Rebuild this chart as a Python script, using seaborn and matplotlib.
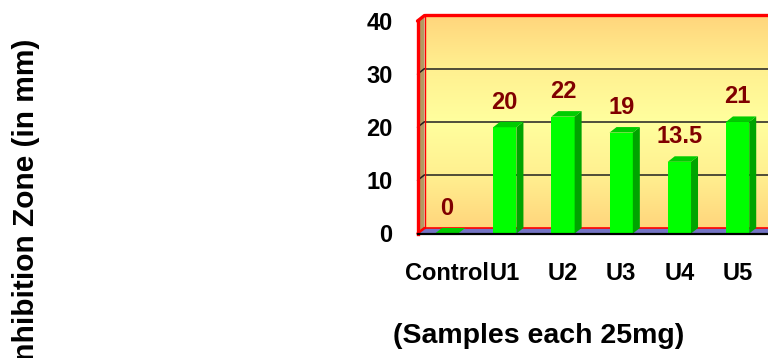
import numpy as np
import pandas as pd
import seaborn as sns
import matplotlib.pyplot as plt
from matplotlib.patches import Polygon
from matplotlib.colors import LinearSegmentedColormap

# Inhibition zone diameters for each sample (25 mg each)
categories = ["Control", "U1", "U2", "U3", "U4", "U5"]
zone_mm = [0, 20, 22, 19, 13.5, 21]
value_labels = ["0", "20", "22", "19", "13.5", "21"]
y_ticks = [0, 10, 20, 30, 40]

sns.set_theme(style="white")
plt.rcParams["font.family"] = ["Liberation Sans", "DejaVu Sans"]
plt.rcParams["font.weight"] = "bold"

W, H = 768, 358
fig = plt.figure(figsize=(W / 100, H / 100), dpi=100)

# plot-area geometry in pixels (front plane)
left_px, right_px = 417.5, 772.5
top_px, bottom_px = 21, 233.5
x_lo, x_hi = -0.5, 5.6
y_lo, y_hi = 0, 40
ax = fig.add_axes([left_px / W, 1 - bottom_px / H,
                   (right_px - left_px) / W, (bottom_px - top_px) / H])

# 3-D depth of the walls / columns, converted to data units
px_per_x = (right_px - left_px) / (x_hi - x_lo)
px_per_y = (bottom_px - top_px) / (y_hi - y_lo)
DX = 7.0 / px_per_x
DY = 5.5 / px_per_y

# back wall with a warm vertical gradient
wall_cmap = LinearSegmentedColormap.from_list(
    "wall", ["#FFD57C", "#FFF090", "#FFFF9E", "#FFF090", "#FFD57C"])
grad = np.linspace(0, 1, 256).reshape(-1, 1)
ax.imshow(grad, cmap=wall_cmap, aspect="auto", origin="upper",
          extent=[x_lo + DX, x_hi + DX + 1, y_lo + DY, y_hi + DY],
          zorder=0, clip_on=False)

# gridlines on the back wall and the matching diagonals on the side wall
for t in y_ticks[1:-1]:
    ax.plot([x_lo + DX, x_hi + 1], [t + DY, t + DY], color="#202020",
            lw=1.1, zorder=1, clip_on=False)
    ax.plot([x_lo, x_lo + DX], [t, t + DY], color="#202020",
            lw=1.1, zorder=2, clip_on=False)

# left side wall
ax.add_patch(Polygon([[x_lo, y_lo], [x_lo + DX, y_lo + DY],
                      [x_lo + DX, y_hi + DY], [x_lo, y_hi]],
                     closed=True, facecolor="#B39A62", edgecolor="none",
                     zorder=1, clip_on=False))

# floor
ax.add_patch(Polygon([[x_lo, y_lo], [x_lo + DX, y_lo + DY],
                      [x_hi + 1, y_lo + DY], [x_hi + 1, y_lo]],
                     closed=True, facecolor="#7474C4", edgecolor="none",
                     zorder=1.5, clip_on=False))

# red frame of the walls
red = "#FF0000"
ax.plot([x_lo + DX, x_hi + 1], [y_hi + DY, y_hi + DY], color=red, lw=2.4,
        zorder=2, clip_on=False)
ax.plot([x_lo + DX, x_hi + 1], [y_lo + DY, y_lo + DY], color=red, lw=1.2,
        zorder=1.8, clip_on=False)
ax.plot([x_lo + DX, x_lo + DX], [y_lo + DY, y_hi + DY], color=red, lw=1.0,
        zorder=2, clip_on=False)
ax.plot([x_lo, x_lo + DX], [y_hi, y_hi + DY], color=red, lw=2.4,
        zorder=2, clip_on=False)
ax.plot([x_lo, x_lo + DX], [y_lo, y_lo + DY], color=red, lw=1.8,
        zorder=2, clip_on=False)

# front faces of the columns
df = pd.DataFrame({"sample": categories, "zone": zone_mm})
sns.barplot(data=df, x="sample", y="zone", ax=ax, width=0.4,
            color="#00FF00", saturation=1, edgecolor="none", zorder=3)

# side and top faces of the columns
for patch in list(ax.patches):
    if patch.get_facecolor()[:3] != (0.0, 1.0, 0.0):
        continue
    x0 = patch.get_x()
    x1 = x0 + patch.get_width()
    h = patch.get_height()
    ax.add_patch(Polygon([[x1, 0], [x1 + DX, DY], [x1 + DX, h + DY], [x1, h]],
                         closed=True, facecolor="#00A400", edgecolor="none",
                         zorder=3))
    ax.add_patch(Polygon([[x0, h], [x1, h], [x1 + DX, h + DY], [x0 + DX, h + DY]],
                         closed=True, facecolor="#00CC00", edgecolor="none",
                         zorder=3))

# value labels above the columns
for i, (v, lab) in enumerate(zip(zone_mm, value_labels)):
    ax.annotate(lab, (i, v), xytext=(0, 18), textcoords="offset points",
                ha="center", va="center", fontsize=17, fontweight="bold",
                color="#800000", zorder=5, annotation_clip=False)

ax.set_xlim(x_lo, x_hi)
ax.set_ylim(y_lo, y_hi)

# axes lines and ticks
for s in ["top", "right"]:
    ax.spines[s].set_visible(False)
ax.spines["left"].set_color(red)
ax.spines["left"].set_linewidth(2.4)
ax.spines["left"].set_zorder(4)
ax.spines["bottom"].set_color("black")
ax.spines["bottom"].set_linewidth(1.6)
ax.spines["bottom"].set_zorder(4)

ax.set_yticks(y_ticks)
ax.set_yticklabels([str(t) for t in y_ticks])
ax.tick_params(axis="y", which="major", direction="out", length=6, width=2.4,
               color=red, pad=12, labelsize=17, labelcolor="black")
ax.set_xticks(range(len(categories)))
ax.set_xticklabels(categories)
ax.set_xticks(np.arange(-0.5, len(categories) + 0.5, 1.0), minor=True)
ax.tick_params(axis="x", which="major", length=0, pad=20.5, labelsize=17,
               labelcolor="black")
ax.tick_params(axis="x", which="minor", direction="out", length=5, width=1.6,
               color="black")
for lab in ax.get_xticklabels() + ax.get_yticklabels():
    lab.set_fontweight("bold")
ax.set_xlabel("")
ax.set_ylabel("")
ax.grid(False)

fig.text(539 / W, 1 - 336 / H, "(Samples each 25mg)", ha="center",
         va="center", fontsize=20.5, fontweight="bold", color="black")
fig.text(26 / W, 1 - 204 / H, "Inhibition Zone (in mm)", ha="center",
         va="center", rotation=90, fontsize=21.5, fontweight="bold",
         color="black")

fig.savefig("out.png", dpi=100, facecolor="white")
